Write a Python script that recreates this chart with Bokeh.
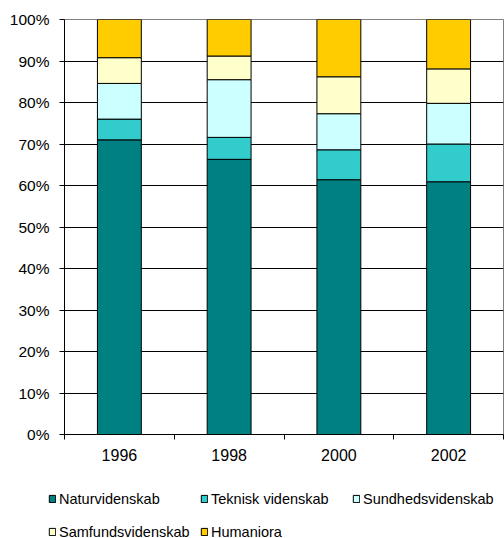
import numpy as np
from bokeh.plotting import figure
from bokeh.layouts import column
from bokeh.models import (Range1d, FixedTicker, Legend, LegendItem,
                          ColumnDataSource, PrintfTickFormatter)
from bokeh.embed import file_html
from bokeh.resources import INLINE

# ---- data ----
years = ["1996", "1998", "2000", "2002"]
fields = ["Naturvidenskab", "Teknisk videnskab", "Sundhedsvidenskab",
          "Samfundsvidenskab", "Humaniora"]
naturvidenskab = [71.0, 66.3, 61.4, 60.9]
teknisk_videnskab = [5.0, 5.3, 7.2, 9.1]
sundhedsvidenskab = [8.6, 13.9, 8.7, 9.8]
samfundsvidenskab = [6.2, 5.7, 8.9, 8.3]
humaniora = [9.2, 8.8, 13.8, 11.9]
y_ticks = [0, 10, 20, 30, 40, 50, 60, 70, 80, 90, 100]

colors = ["#008080", "#33CCCC", "#CCFFFF", "#FFFFCC", "#FFCC00"]
FONT = "Liberation Sans"

x_pos = [i + 0.5 for i in range(len(years))]
keys = ["k0", "k1", "k2", "k3", "k4"]
src = ColumnDataSource(dict(
    x=x_pos,
    k0=naturvidenskab,
    k1=teknisk_videnskab,
    k2=sundhedsvidenskab,
    k3=samfundsvidenskab,
    k4=humaniora,
))

p = figure(width=504, height=474, output_backend="svg", toolbar_location=None,
           x_range=Range1d(0, len(years)), y_range=Range1d(0, 100),
           min_border_left=64, min_border_right=1, min_border_top=19,
           min_border_bottom=40)
p.frame_align = False
p.background_fill_color = "white"
p.border_fill_color = "white"
p.outline_line_color = "#808080"

renderers = p.vbar_stack(keys, x="x", width=0.4, source=src,
                         fill_color=colors, line_color="black", line_width=1)

# y axis
p.yaxis.ticker = FixedTicker(ticks=y_ticks, minor_ticks=[])
p.yaxis.formatter = PrintfTickFormatter(format="%d%%")
p.yaxis.major_tick_out = 5
p.yaxis.major_tick_in = 0
p.yaxis.minor_tick_line_color = None
p.yaxis.axis_line_color = "black"
p.yaxis.major_tick_line_color = "black"
p.yaxis.major_label_standoff = 10
p.yaxis.major_label_text_font = FONT
p.yaxis.major_label_text_font_size = "15.5px"
p.yaxis.major_label_text_color = "black"

# x axis
p.xaxis.ticker = FixedTicker(ticks=x_pos, minor_ticks=list(range(len(years) + 1)))
p.xaxis.major_label_overrides = {xp: y for xp, y in zip(x_pos, years)}
p.xaxis.major_tick_in = 0
p.xaxis.major_tick_out = 0
p.xaxis.minor_tick_in = 0
p.xaxis.minor_tick_out = 5
p.xaxis.minor_tick_line_color = "black"
p.xaxis.axis_line_color = "black"
p.xaxis.major_label_standoff = 9
p.xaxis.major_label_text_font = FONT
p.xaxis.major_label_text_font_size = "16px"
p.xaxis.major_label_text_color = "black"

p.xgrid.grid_line_color = None
p.ygrid.grid_line_color = "black"
p.ygrid.grid_line_width = 1

# ---- legend panel ----
lg = figure(width=504, height=64, output_backend="svg", toolbar_location=None,
            x_range=Range1d(0, 504), y_range=Range1d(0, 64),
            min_border_left=0, min_border_right=0, min_border_top=0,
            min_border_bottom=0, x_axis_location=None, y_axis_location=None)
lg.frame_align = False
lg.grid.visible = False
lg.outline_line_color = None
lg.background_fill_color = "white"
lg.border_fill_color = "white"

# swatch-only renderers (no visible mark: NaN position) for the legend
swatches = [lg.vbar(x=np.array([np.nan]), top=np.array([np.nan]), width=0.4,
                    fill_color=c, line_color="black")
            for c in colors]

legend = Legend(
    items=[LegendItem(label=f, renderers=[r], index=0) for f, r in zip(fields, swatches)],
    location=(48, -5), orientation="horizontal", ncols=3,
    glyph_width=8, glyph_height=9, label_standoff=3,
    label_width=131, label_height=23, spacing=10, padding=0, margin=0,
    border_line_color=None, background_fill_alpha=0,
    label_text_font=FONT, label_text_font_size="14.5px",
    label_text_color="black",
)
lg.add_layout(legend)

layout = column(p, lg, spacing=0)
open("out.html", "w").write(file_html(layout, INLINE))
